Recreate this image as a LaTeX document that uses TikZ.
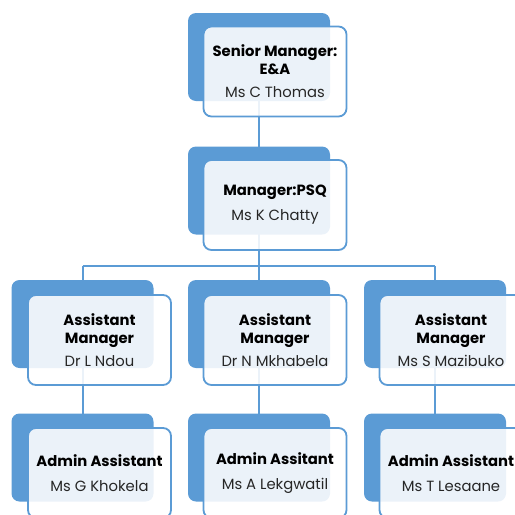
\documentclass[tikz,border=0pt]{standalone}
\usepackage{fontspec}
\setmainfont{Poppins}
\definecolor{boxblue}{HTML}{5B9BD5}
\definecolor{nametext}{HTML}{262626}
\begin{document}
\begin{tikzpicture}[x=1pt,y=-1pt,
  back/.style={fill=boxblue, rounded corners=8pt, minimum width=142pt, minimum height=88pt, inner sep=0pt},
  front/.style={draw=boxblue, line width=1.8pt, fill=white, fill opacity=0.88, text opacity=1, rounded corners=8pt, minimum width=143pt, minimum height=90pt, align=center, inner sep=0pt, font=\fontsize{14.8}{18}\selectfont},
  conn/.style={draw=boxblue, line width=2pt}]
\useasboundingbox (0,0) rectangle (515,515);
\clip (0,0) rectangle (515,515);
% connector anchors (drawn behind boxes)
\node[back, draw=none, fill=none] (p1) at (259,57) {};
\node[back, draw=none, fill=none] (p2) at (259,190.5) {};
\node[back, draw=none, fill=none] (p3a) at (82.5,324) {};
\node[back, draw=none, fill=none] (p3b) at (259,324) {};
\node[back, draw=none, fill=none] (p3c) at (435,324) {};
\node[back, draw=none, fill=none] (p4a) at (82.5,457.5) {};
\node[back, draw=none, fill=none] (p4b) at (259,457.5) {};
\node[back, draw=none, fill=none] (p4c) at (435,457.5) {};
\coordinate (hb) at (259,266);
\draw[conn] (p1.center) -- (p2.center);
\draw[conn] (p2.center) -- (hb);
\draw[conn] (p3a.center |- hb) -- (p3c.center |- hb);
\draw[conn] (p3a.center |- hb) -- (p3a.center);
\draw[conn] (hb) -- (p3b.center);
\draw[conn] (p3c.center |- hb) -- (p3c.center);
\draw[conn] (p3a.center) -- (p4a.center);
\draw[conn] (p3b.center) -- (p4b.center);
\draw[conn] (p3c.center) -- (p4c.center);
% boxes
\node[back] (b1) at (259,57) {};
\node[front] (f1) at (275,71.5) {{\bfseries Senior Manager:}\\{\bfseries E\&A}\\[5pt]\textcolor{nametext}{Ms C Thomas}};
\node[back] (b2) at (259,190.5) {};
\node[front] (f2) at (275,205) {{\bfseries Manager:PSQ}\\[7pt]\textcolor{nametext}{Ms K Chatty}};
\node[back] (b3a) at (82.5,324) {};
\node[front] (f3a) at (99.5,340) {{\bfseries Assistant}\\{\bfseries Manager}\\[5pt]\textcolor{nametext}{Dr L Ndou}};
\node[back] (b3b) at (259,324) {};
\node[front] (f3b) at (275,340) {{\bfseries Assistant}\\{\bfseries Manager}\\[5pt]\textcolor{nametext}{Dr N Mkhabela}};
\node[back] (b3c) at (435,324) {};
\node[front] (f3c) at (451,340) {{\bfseries Assistant}\\{\bfseries Manager}\\[5pt]\textcolor{nametext}{Ms S Mazibuko}};
\node[back] (b4a) at (82.5,457.5) {};
\node[front] (f4a) at (99.5,473) {{\bfseries Admin Assistant}\\[7pt]\textcolor{nametext}{Ms G Khokela}};
\node[back] (b4b) at (259,457.5) {};
\node[front] (f4b) at (275,473) {{\bfseries Admin Assitant}\\[7pt]\textcolor{nametext}{Ms A Lekgwatil}};
\node[back] (b4c) at (435,457.5) {};
\node[front] (f4c) at (451,473) {{\bfseries Admin Assistant}\\[7pt]\textcolor{nametext}{Ms T Lesaane}};
\end{tikzpicture}
\end{document}
